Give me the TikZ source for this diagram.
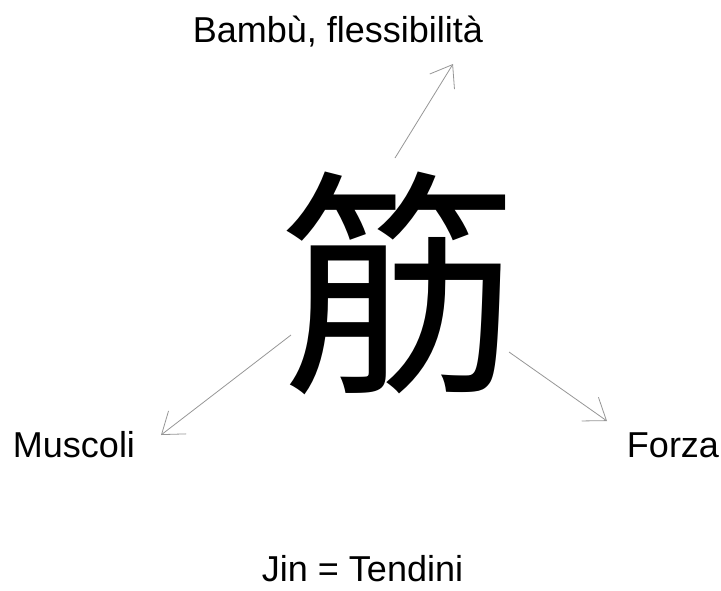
\documentclass[tikz,border=0pt]{standalone}
\usepackage{fontspec}
\setmainfont{Liberation Sans}
\newfontfamily\cjk{Noto Sans CJK SC}
\usetikzlibrary{arrows.meta}
\definecolor{arrowgray}{RGB}{150,150,150}
\begin{document}
\begin{tikzpicture}[x=1pt,y=-1pt,
  lbl/.style={inner sep=0pt, anchor=base, font=\fontsize{36}{40}\selectfont},
  hanzi/.style={inner sep=0pt, anchor=center, font=\cjk\fontsize{240}{240}\selectfont},
  conn/.style={draw=arrowgray, line width=0.8pt, -{Straight Barb[length=20pt,width=29pt]}}]
\useasboundingbox (0,0) rectangle (721,590);
\node[hanzi] (jin) at (399.5,283) {筋};
\node[lbl] (bambu) at (338,42) {Bambù, flessibilità};
\node[lbl] (muscoli) at (74,457) {Muscoli};
\node[lbl] (forza) at (673,457) {Forza};
\node[lbl] (tendini) at (362.5,581) {Jin = Tendini};
\coordinate (u0) at (395,158);
\coordinate (u1) at (453,64);
\coordinate (l0) at (291,335);
\coordinate (l1) at (161,435);
\coordinate (r0) at (509,352);
\coordinate (r1) at (607,421);
\draw[conn] (u0) -- (u1);
\draw[conn] (l0) -- (l1);
\draw[conn] (r0) -- (r1);
\end{tikzpicture}
\end{document}
